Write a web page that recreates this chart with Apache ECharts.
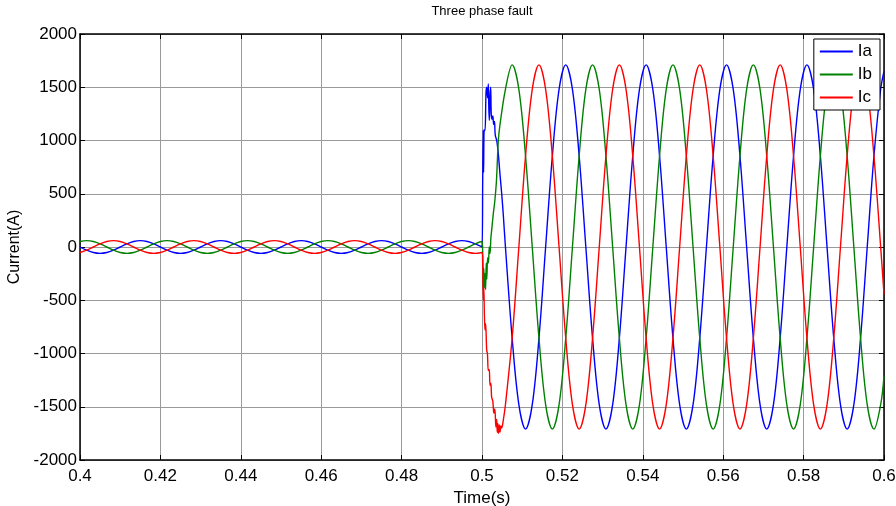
<!DOCTYPE html>
<html>
<head>
<meta charset="utf-8">
<title>Three phase fault</title>
<script src="https://cdn.jsdelivr.net/npm/echarts@6/dist/echarts.min.js"></script>
<style>
  html, body { margin: 0; padding: 0; background: #fff; }
  #chart { width: 896px; height: 506px; }
</style>
</head>
<body>
<div id="chart"></div>
<script>
// ── Данные ───────────────────────────────────────────────────────────────────
// Время выборок до КЗ (шаг ~1/600 с)
var timePre = [
  0.40, 0.40167, 0.40333, 0.405, 0.40667, 0.40833,
  0.41, 0.41167, 0.41333, 0.415, 0.41667, 0.41833,
  0.42, 0.42167, 0.42333, 0.425, 0.42667, 0.42833,
  0.43, 0.43167, 0.43333, 0.435, 0.43667, 0.43833,
  0.44, 0.44167, 0.44333, 0.445, 0.44667, 0.44833,
  0.45, 0.45167, 0.45333, 0.455, 0.45667, 0.45833,
  0.46, 0.46167, 0.46333, 0.465, 0.46667, 0.46833,
  0.47, 0.47167, 0.47333, 0.475, 0.47667, 0.47833,
  0.48, 0.48167, 0.48333, 0.485, 0.48667, 0.48833,
  0.49, 0.49167, 0.49333, 0.495, 0.49667, 0.49833,
  0.50
];

// Время выборок после КЗ
var timePost = [
  0.50083, 0.5025, 0.50417, 0.50583, 0.5075, 0.50917,
  0.51083, 0.5125, 0.51417, 0.51583, 0.5175, 0.51917,
  0.52083, 0.5225, 0.52417, 0.52583, 0.5275, 0.52917,
  0.53083, 0.5325, 0.53417, 0.53583, 0.5375, 0.53917,
  0.54083, 0.5425, 0.54417, 0.54583, 0.5475, 0.54917,
  0.55083, 0.5525, 0.55417, 0.55583, 0.5575, 0.55917,
  0.56083, 0.5625, 0.56417, 0.56583, 0.5675, 0.56917,
  0.57083, 0.5725, 0.57417, 0.57583, 0.5775, 0.57917,
  0.58083, 0.5825, 0.58417, 0.58583, 0.5875, 0.58917,
  0.59083, 0.5925, 0.59417, 0.59583, 0.5975, 0.59917,
  0.60
];

// Токи до КЗ, А
var iaPre = [
  0, -30, -52, -60, -52, -30, 0, 30, 52, 60, 52, 30,
  0, -30, -52, -60, -52, -30, 0, 30, 52, 60, 52, 30,
  0, -30, -52, -60, -52, -30, 0, 30, 52, 60, 52, 30,
  0, -30, -52, -60, -52, -30, 0, 30, 52, 60, 52, 30,
  0, -30, -52, -60, -52, -30, 0, 30, 52, 60, 52, 30,
  0
];
var ibPre = [
  52, 60, 52, 30, 0, -30, -52, -60, -52, -30, 0, 30,
  52, 60, 52, 30, 0, -30, -52, -60, -52, -30, 0, 30,
  52, 60, 52, 30, 0, -30, -52, -60, -52, -30, 0, 30,
  52, 60, 52, 30, 0, -30, -52, -60, -52, -30, 0, 30,
  52, 60, 52, 30, 0, -30, -52, -60, -52, -30, 0, 30,
  52
];
var icPre = [
  -52, -30, 0, 30, 52, 60, 52, 30, 0, -30, -52, -60,
  -52, -30, 0, 30, 52, 60, 52, 30, 0, -30, -52, -60,
  -52, -30, 0, 30, 52, 60, 52, 30, 0, -30, -52, -60,
  -52, -30, 0, 30, 52, 60, 52, 30, 0, -30, -52, -60,
  -52, -30, 0, 30, 52, 60, 52, 30, 0, -30, -52, -60,
  -52
];

// Переходный процесс в момент КЗ: [время, ток]
var iaFault = [
  [0.50017, 600], [0.5003, 1100], [0.5004, 700], [0.50055, 1100], [0.50075, 1094],
  [0.501, 1450], [0.50117, 1500], [0.5014, 1400], [0.50157, 1531], [0.5017, 1300],
  [0.50182, 1188], [0.502, 1420], [0.50216, 1500], [0.5023, 1250], [0.5025, 1200],
  [0.5027, 1230], [0.5029, 1150], [0.5031, 1180], [0.5033, 1050], [0.50366, 1000],
  [0.50406, 875], [0.50448, 680], [0.5049, 500], [0.5053, 300]
];
var ibFault = [
  [0.50017, -50], [0.5003, -400], [0.50045, -200], [0.5006, -380], [0.50075, -250],
  [0.5009, -400], [0.50105, -150], [0.5012, -300], [0.5014, -100], [0.5016, -150],
  [0.5018, 0], [0.502, -60], [0.5022, 80], [0.5024, 156], [0.50282, 316],
  [0.5032, 437], [0.5036, 625], [0.50406, 1000], [0.50448, 1150]
];
var icFault = [
  [0.50017, -150], [0.50033, -500], [0.50045, -380], [0.5006, -650], [0.50075, -780],
  [0.5009, -720], [0.50117, -970], [0.50135, -1000], [0.50157, -1160], [0.5018, -1150],
  [0.502, -1300], [0.5022, -1280], [0.5024, -1410], [0.5027, -1450], [0.50295, -1560],
  [0.5032, -1520], [0.50345, -1690], [0.50365, -1620], [0.5038, -1740], [0.50395, -1660],
  [0.5041, -1750], [0.5043, -1670], [0.50448, -1740], [0.5047, -1680], [0.5049, -1700],
  [0.5053, -1625]
];

// Токи после КЗ, А (null — участок занят переходным процессом)
var iaPost = [
  null, null, null, 0, -855, -1481, -1710, -1481, -855, 0, 855, 1481,
  1710, 1481, 855, 0, -855, -1481, -1710, -1481, -855, 0, 855, 1481,
  1710, 1481, 855, 0, -855, -1481, -1710, -1481, -855, 0, 855, 1481,
  1710, 1481, 855, 0, -855, -1481, -1710, -1481, -855, 0, 855, 1481,
  1710, 1481, 855, 0, -855, -1481, -1710, -1481, -855, 0, 855, 1481,
  1652
];
var ibPost = [
  null, null, null, 1481, 1710, 1481, 855, 0, -855, -1481, -1710, -1481,
  -855, 0, 855, 1481, 1710, 1481, 855, 0, -855, -1481, -1710, -1481,
  -855, 0, 855, 1481, 1710, 1481, 855, 0, -855, -1481, -1710, -1481,
  -855, 0, 855, 1481, 1710, 1481, 855, 0, -855, -1481, -1710, -1481,
  -855, 0, 855, 1481, 1710, 1481, 855, 0, -855, -1481, -1710, -1481,
  -1209
];
var icPost = [
  null, null, null, -1481, -855, 0, 855, 1481, 1710, 1481, 855, 0,
  -855, -1481, -1710, -1481, -855, 0, 855, 1481, 1710, 1481, 855, 0,
  -855, -1481, -1710, -1481, -855, 0, 855, 1481, 1710, 1481, 855, 0,
  -855, -1481, -1710, -1481, -855, 0, 855, 1481, 1710, 1481, 855, 0,
  -855, -1481, -1710, -1481, -855, 0, 855, 1481, 1710, 1481, 855, 0,
  -443
];

var seriesNames = ['Ia', 'Ib', 'Ic'];
var seriesColors = ['#0000ff', '#008000', '#ff0000'];

// ── Склейка участков в один ряд точек ───────────────────────────────────────
function _buildPoints(pre, fault, post) {
  var pts = [];
  timePre.forEach(function (t, i) { pts.push([t, pre[i]]); });
  fault.forEach(function (p) { pts.push(p); });
  timePost.forEach(function (t, i) {
    if (post[i] !== null) pts.push([t, post[i]]);
  });
  return pts;
}

var seriesData = [
  _buildPoints(iaPre, iaFault, iaPost),
  _buildPoints(ibPre, ibFault, ibPost),
  _buildPoints(icPre, icFault, icPost)
];

var FONT = '"Liberation Sans", Arial, Helvetica, sans-serif';

var chart = echarts.init(document.getElementById('chart'));

chart.setOption({
  animation: false,
  backgroundColor: '#fff',
  textStyle: { fontFamily: FONT, color: '#000' },
  grid: { left: 80, right: 12, top: 34, bottom: 46, outerBoundsMode: 'none', containLabel: false },
  legend: {
    data: seriesNames,
    orient: 'vertical',
    right: 16,
    top: 39,
    backgroundColor: '#fff',
    borderColor: '#000',
    borderWidth: 1,
    padding: [4, 8, 4, 6],
    itemGap: 6,
    itemWidth: 33,
    itemHeight: 2,
    icon: 'rect',
    itemStyle: { borderWidth: 0 },
    textStyle: { fontFamily: FONT, fontSize: 17, color: '#000' }
  },
  xAxis: [
    {
      type: 'value',
      min: 0.4,
      max: 0.6,
      interval: 0.02,
      name: 'Time(s)',
      nameLocation: 'middle',
      nameGap: 25,
      nameTextStyle: { fontFamily: FONT, fontSize: 17, color: '#000' },
      axisLine: { onZero: false, lineStyle: { color: '#000', width: 1.5 } },
      axisTick: { inside: true, length: 5, lineStyle: { color: '#000' } },
      axisLabel: {
        margin: 8,
        fontFamily: FONT,
        fontSize: 17,
        color: '#000',
        formatter: function (v) { return String(+v.toFixed(2)); }
      },
      splitLine: { show: true, lineStyle: { color: '#9a9a9a', width: 1 } }
    },
    {
      type: 'value',
      position: 'top',
      min: 0.4,
      max: 0.6,
      interval: 0.02,
      name: 'Three phase fault',
      nameLocation: 'middle',
      nameGap: 16,
      nameTextStyle: { fontFamily: FONT, fontSize: 13, color: '#000' },
      axisLine: { onZero: false, lineStyle: { color: '#000', width: 1.5 } },
      axisTick: { inside: true, length: 5, lineStyle: { color: '#000' } },
      axisLabel: { show: false },
      splitLine: { show: false }
    }
  ],
  yAxis: [
    {
      type: 'value',
      min: -2000,
      max: 2000,
      interval: 500,
      name: 'Current(A)',
      nameLocation: 'middle',
      nameGap: 50,
      nameTextStyle: { fontFamily: FONT, fontSize: 16, color: '#000' },
      axisLine: { onZero: false, lineStyle: { color: '#000', width: 1.5 } },
      axisTick: { inside: true, length: 5, lineStyle: { color: '#000' } },
      axisLabel: {
        margin: 3,
        fontFamily: FONT,
        fontSize: 17,
        color: '#000',
        formatter: function (v) { return String(v); }
      },
      splitLine: { show: true, lineStyle: { color: '#9a9a9a', width: 1 } }
    },
    {
      type: 'value',
      position: 'right',
      min: -2000,
      max: 2000,
      interval: 500,
      axisLine: { show: true, onZero: false, lineStyle: { color: '#000', width: 1.5 } },
      axisTick: { inside: true, length: 5, lineStyle: { color: '#000' } },
      axisLabel: { show: false },
      splitLine: { show: false }
    }
  ],
  series: seriesNames.map(function (name, i) {
    return {
      name: name,
      type: 'line',
      data: seriesData[i],
      showSymbol: false,
      smooth: 0.35,
      lineStyle: { color: seriesColors[i], width: 1.4 },
      itemStyle: { color: seriesColors[i] },
      clip: true
    };
  })
});
</script>
</body>
</html>
